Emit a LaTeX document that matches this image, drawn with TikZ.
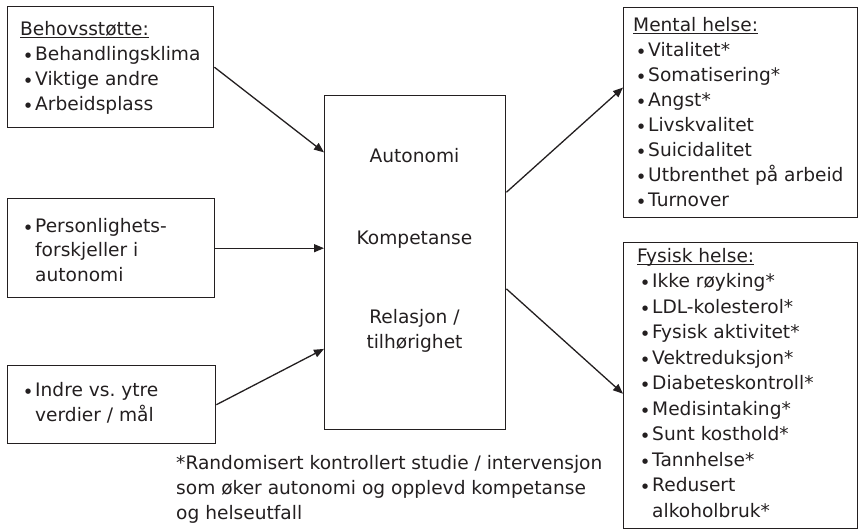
\documentclass[tikz,border=0pt]{standalone}
\usepackage{fontspec}
\setmainfont{DejaVu Sans}
\usetikzlibrary{arrows.meta,calc}
\definecolor{ink}{HTML}{231F20}
% list bullet followed by the item text
\newcommand\bt{\makebox[15pt][l]{\hspace{5pt}\raisebox{2.8pt}{\fontsize{7}{7}\selectfont ●}}}
% heading with a thin underline at a fixed depth
\newcommand\hd[1]{\setbox0\hbox{#1}\rlap{\rule[-2.6pt]{\wd0}{0.9pt}}\box0}
% fixed height for the first line of a text block
\newcommand\fl{\rule{0pt}{15pt}}

\begin{document}
\begin{tikzpicture}[x=1pt,y=-1pt,
  frame/.style={draw=ink, line width=1.4pt, inner sep=0pt, anchor=north west},
  txt/.style={text=ink, font=\fontsize{18.6}{25}\selectfont, inner sep=0pt, anchor=north west, align=left},
  ctr/.style={text=ink, font=\fontsize{18.6}{25}\selectfont, inner sep=0pt, align=center},
  arr/.style={draw=ink, line width=1.3pt, -{Triangle[length=10pt,width=8pt]}}]
\useasboundingbox (0,0) rectangle (858,529);

% frames
\node[frame, minimum width=206pt, minimum height=121pt] (need) at (7,6) {};
\node[frame, minimum width=207pt, minimum height=99pt]  (pers) at (7,198) {};
\node[frame, minimum width=208pt, minimum height=78pt]  (goal) at (7,365) {};
\node[frame, minimum width=181pt, minimum height=334pt] (core) at (324,95) {};
\node[frame, minimum width=234pt, minimum height=210pt] (ment) at (623,7) {};
\node[frame, minimum width=234pt, minimum height=286pt] (phys) at (623,242) {};

% left column texts
\node[txt] (needtxt) at (20,20) {\fl\hd{Behovsstøtte:}\\\bt Behandlingsklima\\\bt Viktige andre\\\bt Arbeidsplass};
\node[txt, font=\fontsize{18.6}{24.5}\selectfont] (perstxt) at (20,217) {\fl\bt Personlighets-\\\hspace*{15pt}forskjeller i\\\hspace*{15pt}autonomi};
\node[txt] (goaltxt) at (20,381) {\fl\bt Indre vs.\ ytre\\\hspace*{15pt}verdier / mål};

% centre texts
\node[ctr, anchor=base] (auto) at (414.5,163) {Autonomi};
\node[ctr, anchor=base] (komp) at (414.5,244) {Kompetanse};
\node[ctr, anchor=north] (rela) at (414.5,308) {\fl Relasjon /\\tilhørighet};

% right column texts
\node[txt] (menttxt) at (633,16) {\fl\hd{Mental helse:}\\\bt Vitalitet*\\\bt Somatisering*\\\bt Angst*\\\bt Livskvalitet\\\bt Suicidalitet\\\bt Utbrenthet på arbeid\\\bt Turnover};
\node[txt, font=\fontsize{18.6}{25.5}\selectfont] (phystxt) at (637,247) {\fl\hd{Fysisk helse:}\\\bt Ikke røyking*\\\bt LDL-kolesterol*\\\bt Fysisk aktivitet*\\\bt Vektreduksjon*\\\bt Diabeteskontroll*\\\bt Medisintaking*\\\bt Sunt kosthold*\\\bt Tannhelse*\\\bt Redusert\\\hspace*{15pt}alkoholbruk*};

% footnote
\node[txt] (note) at (176,454) {\fl*Randomisert kontrollert studie / intervensjon\\som øker autonomi og opplevd kompetanse\\og helseutfall};

% connectors
\draw[arr] (need.east) -- ($(core.north west)!0.171!(core.south west)$);
\draw[arr] (pers.east) -- (pers.east -| core.west);
\draw[arr] (goal.east) -- ($(core.north west)!0.757!(core.south west)$);
\draw[arr] ($(core.north east)!0.29!(core.south east)$) -- ($(ment.north west)!0.381!(ment.south west)$);
\draw[arr] ($(core.north east)!0.578!(core.south east)$) -- ($(phys.north west)!0.528!(phys.south west)$);
\end{tikzpicture}
\end{document}
